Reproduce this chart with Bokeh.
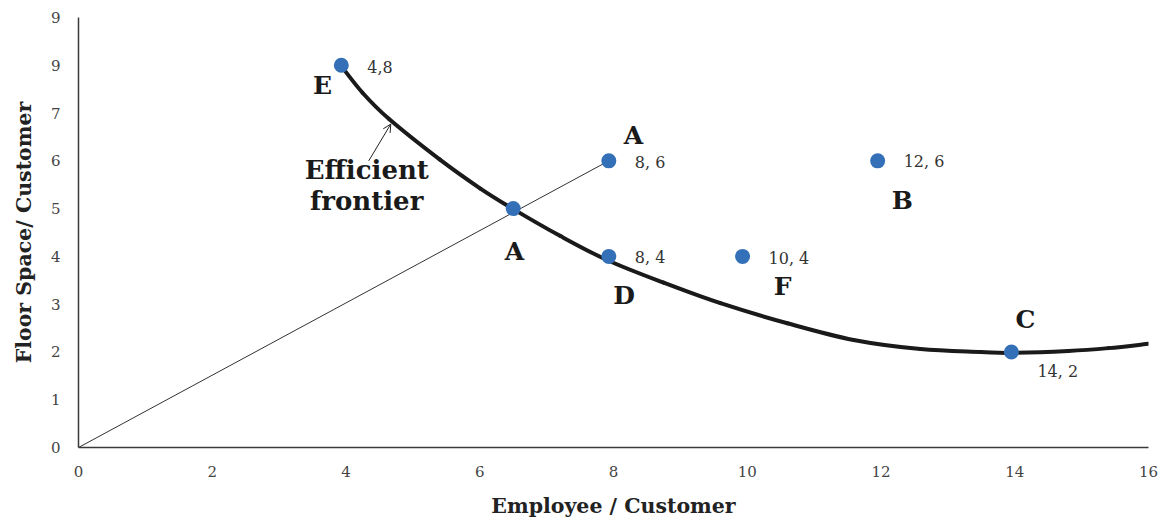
from bokeh.plotting import figure
from bokeh.models import Range1d, Arrow, OpenHead, ColumnDataSource
from bokeh.core.properties import value
from bokeh.embed import file_html
from bokeh.resources import INLINE

# ---- data ----
point_names = ["E", "A'", "B", "A", "D", "F", "C"]
point_x = [3.93, 7.93, 11.95, 6.5, 7.93, 9.93, 13.95]
point_y = [8.0, 6.0, 6.0, 5.0, 4.0, 4.0, 2.0]
point_labels = ["4,8", "8, 6", "12, 6", "", "8, 4", "10, 4", "14, 2"]

frontier_x = [3.92, 4.25, 4.64, 5.4, 6.01, 6.49, 7.2, 7.91, 8.75, 9.6, 10.6,
              11.59, 12.59, 13.49, 13.94, 14.8, 15.4, 16.0]
frontier_y = [8.0, 7.42, 6.88, 6.03, 5.42, 5.0, 4.43, 3.92, 3.45, 3.02, 2.6,
              2.25, 2.06, 2.0, 1.98, 2.02, 2.08, 2.17]

ray_x = [0, 7.93]
ray_y = [0, 6.0]

letters = ["E", "A", "A", "D", "F", "B", "C"]
letter_x = [3.65, 8.3, 6.52, 8.16, 10.53, 12.32, 14.16]
letter_y = [7.58, 6.52, 4.10, 3.19, 3.38, 5.17, 2.67]

x_ticks = [0, 2, 4, 6, 8, 10, 12, 14, 16]
y_ticks = [0, 1, 2, 3, 4, 5, 6, 7, 8, 9]
y_tick_labels = ["0", "1", "2", "3", "4", "5", "6", "7", "9", "9"]

SERIF = "DejaVu Serif"

p = figure(width=1172, height=520, output_backend="svg", toolbar_location=None,
           x_range=Range1d(0, 16), y_range=Range1d(0, 9),
           min_border_left=78, min_border_right=24, min_border_top=17, min_border_bottom=70)
p.outline_line_color = None
p.grid.visible = False
p.background_fill_color = "white"

for ax in (p.xaxis[0], p.yaxis[0]):
    ax.major_tick_line_color = None
    ax.minor_tick_line_color = None
    ax.axis_line_color = "#3a3a3a"
    ax.axis_line_width = 1.5
    ax.major_label_text_font = SERIF
    ax.major_label_text_font_size = "15px"
    ax.major_label_text_color = "#444444"
    ax.axis_label_text_font = SERIF
    ax.axis_label_text_font_style = "bold"
    ax.axis_label_text_font_size = "20.5px"
    ax.axis_label_text_color = "#222222"

p.xaxis.ticker = x_ticks
p.yaxis.ticker = y_ticks
p.yaxis.major_label_overrides = {t: l for t, l in zip(y_ticks, y_tick_labels)}
p.xaxis.axis_label = "Employee / Customer"
p.yaxis.axis_label = "Floor Space/ Customer"
p.xaxis.major_label_standoff = 12
p.xaxis.axis_label_standoff = 14
p.yaxis.major_label_standoff = 12
p.yaxis.axis_label_standoff = 12

# ray from origin
p.line(ray_x, ray_y, line_color="#333333", line_width=1)

# efficient frontier: smooth Catmull-Rom curve through the read points, drawn as bezier segments
n = len(frontier_x)
x0s, y0s, x1s, y1s, cx0, cy0, cx1, cy1 = [], [], [], [], [], [], [], []
for i in range(n - 1):
    pa = max(i - 1, 0)
    pb = min(i + 2, n - 1)
    x0s.append(frontier_x[i]); y0s.append(frontier_y[i])
    x1s.append(frontier_x[i + 1]); y1s.append(frontier_y[i + 1])
    cx0.append(frontier_x[i] + (frontier_x[i + 1] - frontier_x[pa]) / 6)
    cy0.append(frontier_y[i] + (frontier_y[i + 1] - frontier_y[pa]) / 6)
    cx1.append(frontier_x[i + 1] - (frontier_x[pb] - frontier_x[i]) / 6)
    cy1.append(frontier_y[i + 1] - (frontier_y[pb] - frontier_y[i]) / 6)
p.bezier(x0=x0s, y0=y0s, x1=x1s, y1=y1s, cx0=cx0, cy0=cy0, cx1=cx1, cy1=cy1,
         line_color="#1a1a1a", line_width=4, line_cap="round")

# points
p.scatter(point_x, point_y, size=15, fill_color="#3370B8", line_color=None)

# point labels
lab_src = ColumnDataSource(dict(x=point_x, y=point_y, t=point_labels,
                                yo=[2, 2, 1, 0, 1, 2, 20]))
p.text(x="x", y="y", text="t", source=lab_src, x_offset=26, y_offset="yo",
       text_font=value(SERIF), text_font_size="16px", text_color="#333333",
       text_baseline="middle", text_align="left")

# letters
p.text(letter_x, letter_y, text=letters, text_font=value(SERIF), text_font_style="bold",
       text_font_size="25px", text_color="#1a1a1a", text_align="center", text_baseline="middle")

# efficient frontier annotation
p.text([4.31, 4.31], [5.81, 5.15], text=["Efficient", "frontier"], text_font=value(SERIF),
       text_font_style="bold", text_font_size="26px", text_color="#1a1a1a",
       text_align="center", text_baseline="middle")
p.add_layout(Arrow(end=OpenHead(size=8, line_width=1, line_color="#222222"),
                   x_start=4.34, y_start=6.0, x_end=4.67, y_end=6.77,
                   line_width=1, line_color="#222222"))

open("out.html", "w").write(file_html(p, INLINE))
